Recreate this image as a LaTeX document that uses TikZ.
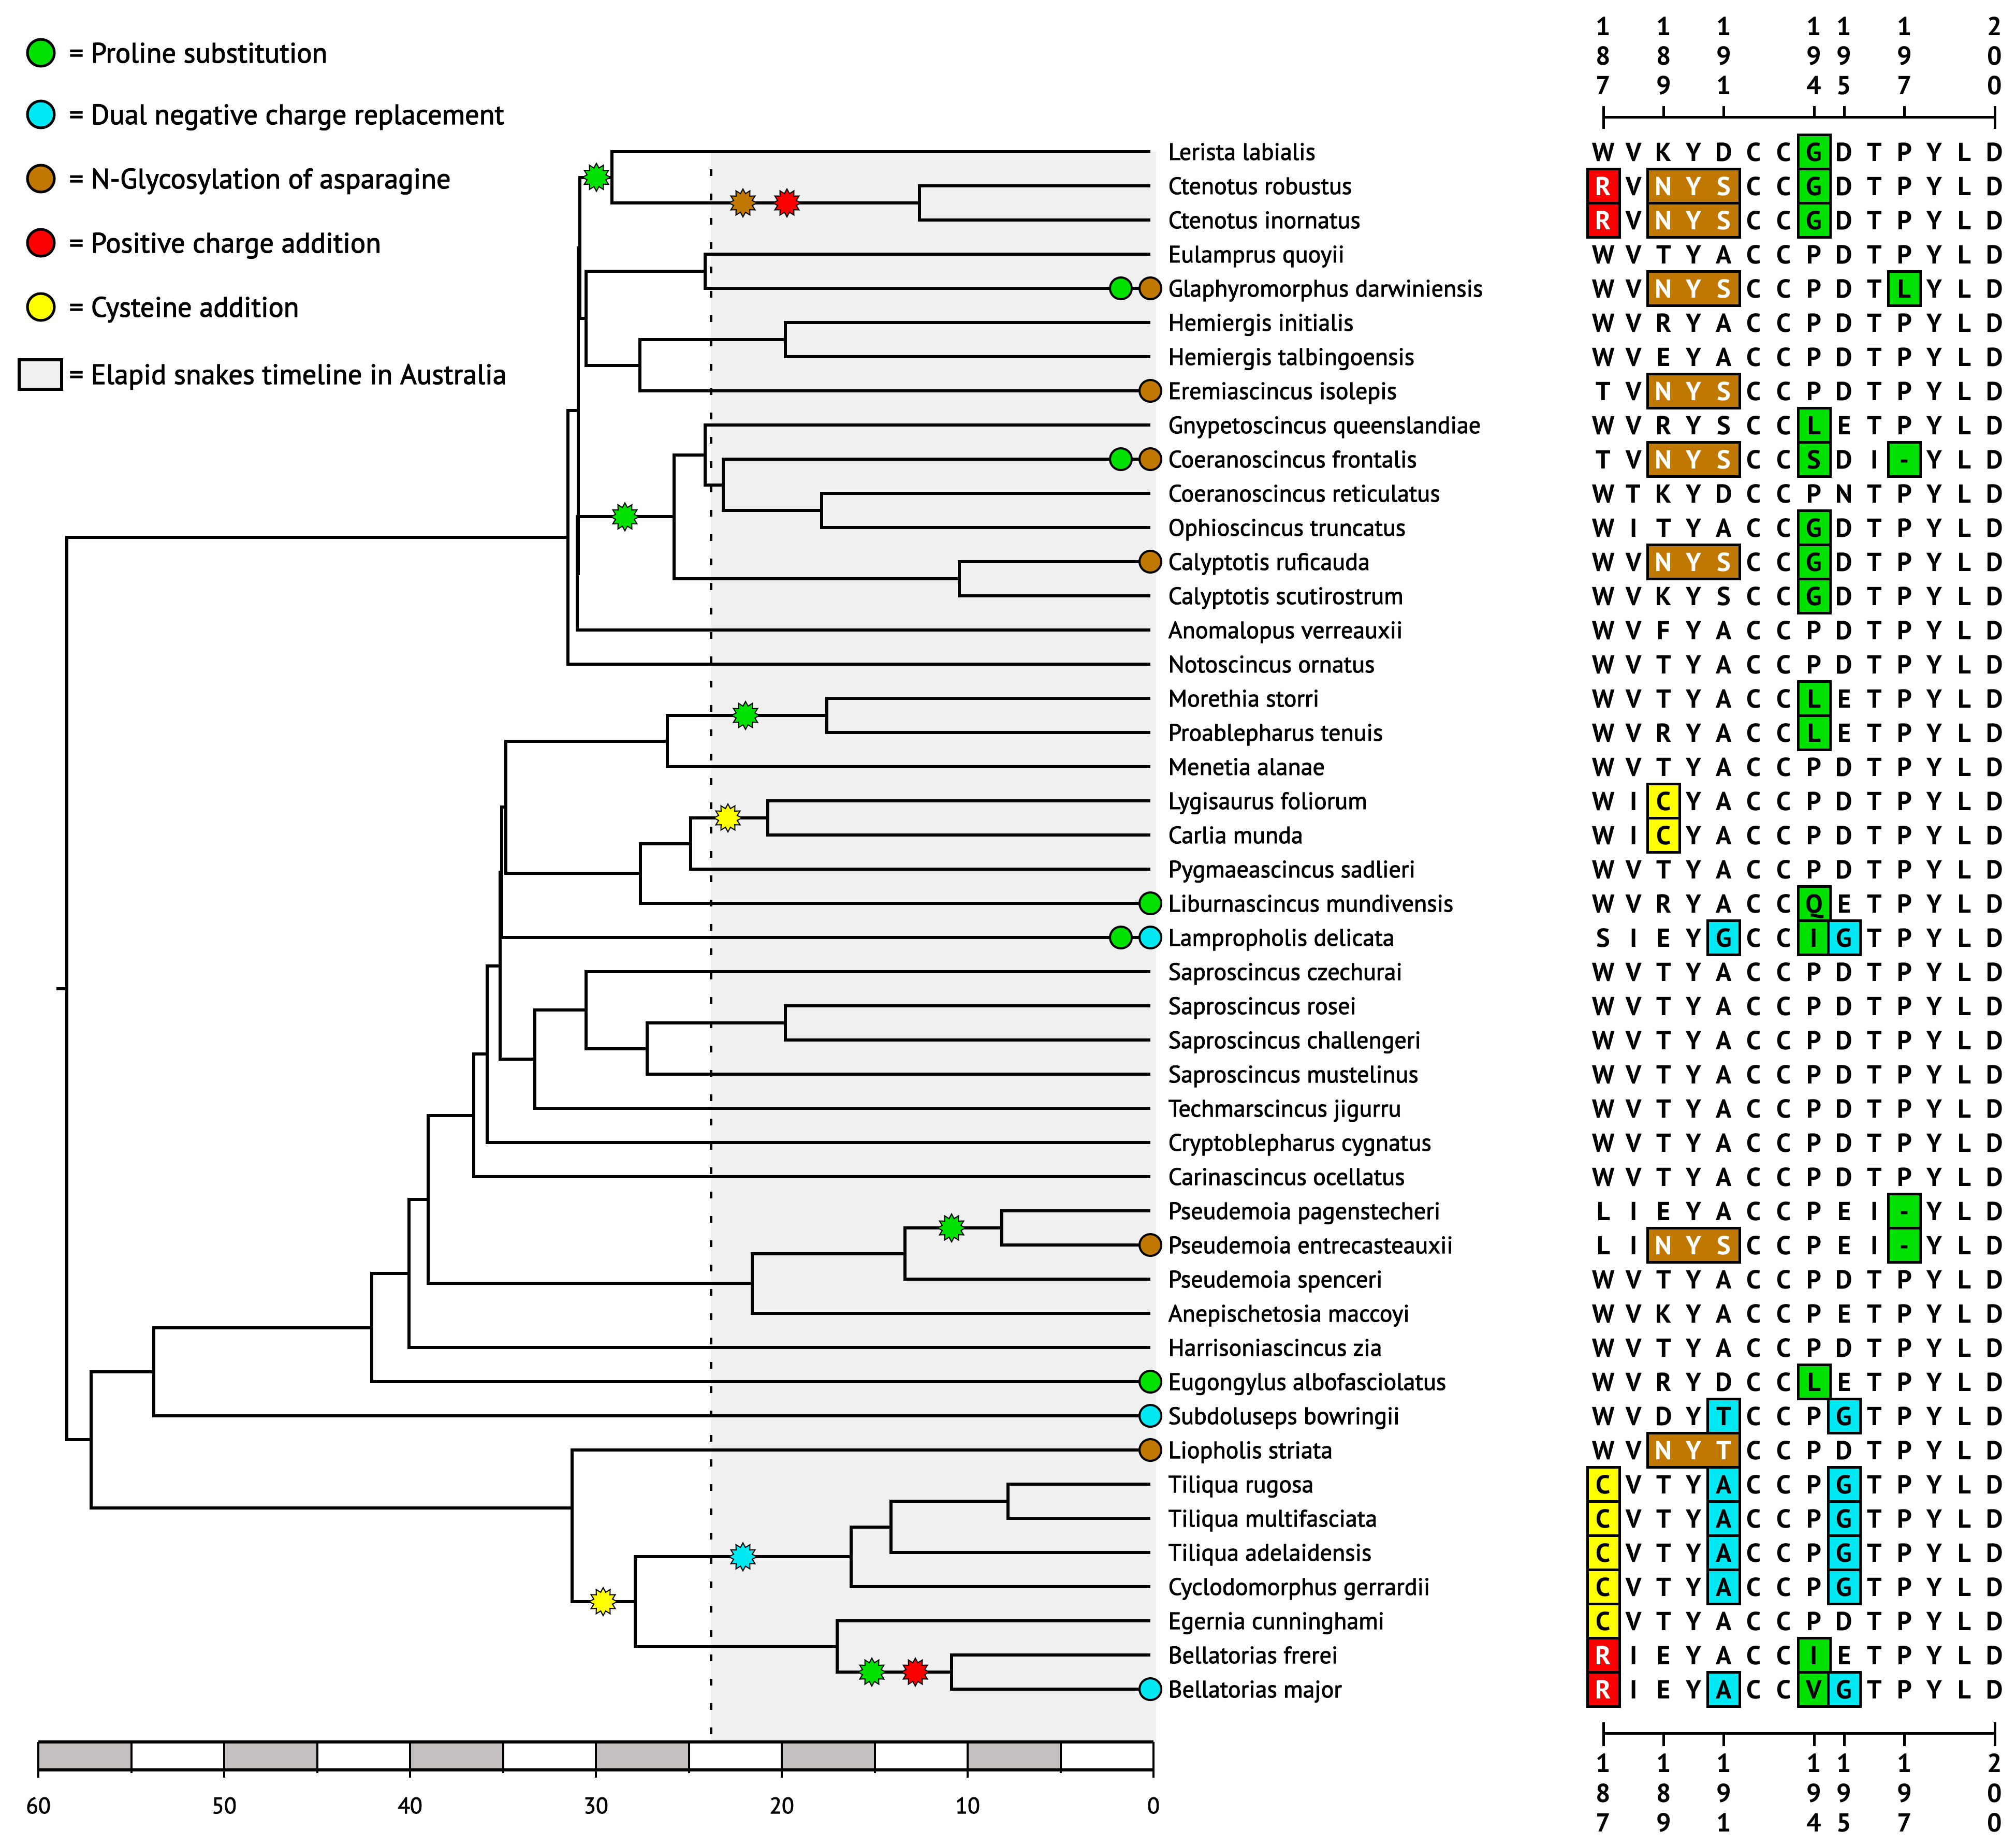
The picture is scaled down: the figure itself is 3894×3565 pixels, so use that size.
\documentclass[tikz,border=0pt]{standalone}
\usepackage{fontspec}
\setmainfont{PT Sans}
\newfontfamily\medf{PT Sans}[FakeBold=2.0]
\usetikzlibrary{shapes.geometric}
\definecolor{cgreen}{RGB}{0,225,0}
\definecolor{ccyan}{RGB}{0,232,242}
\definecolor{cbrown}{RGB}{192,120,0}
\definecolor{cred}{RGB}{250,0,0}
\definecolor{cyellow}{RGB}{255,255,0}
\definecolor{bggray}{RGB}{240,240,240}
\definecolor{bargray}{RGB}{196,192,192}
\newcommand\wcell[2]{\expandafter\def\csname wc#1-#2\endcsname{}}
\wcell{1}{0}\wcell{2}{0}\wcell{44}{0}\wcell{45}{0}
\wcell{1}{2}\wcell{1}{3}\wcell{1}{4}
\wcell{2}{2}\wcell{2}{3}\wcell{2}{4}
\wcell{4}{2}\wcell{4}{3}\wcell{4}{4}
\wcell{7}{2}\wcell{7}{3}\wcell{7}{4}
\wcell{9}{2}\wcell{9}{3}\wcell{9}{4}
\wcell{12}{2}\wcell{12}{3}\wcell{12}{4}
\wcell{32}{2}\wcell{32}{3}\wcell{32}{4}
\wcell{38}{2}\wcell{38}{3}\wcell{38}{4}
\newcommand\hlb[4]{\draw[hlbox, fill=#4] ({3097+58.15*#2-31},{293+66*#1-33}) rectangle ({3097+58.15*#3+31},{293+66*#1+33});}
\begin{document}
\begin{tikzpicture}[x=0.01cm,y=-0.01cm,
  branch/.style={line width=0.06cm, line join=miter},
  lab/.style={anchor=base west, font=\medf\fontsize{13.1}{15}\selectfont, inner sep=0pt},
  aa/.style={anchor=base, font=\bfseries\fontsize{14.3}{16}\selectfont, inner sep=0pt},
  leg/.style={anchor=base west, font=\medf\fontsize{15.5}{18}\selectfont, inner sep=0pt},
  scl/.style={anchor=base, font=\medf\fontsize{12.4}{14}\selectfont, inner sep=0pt},
  mk/.style={circle, draw=black, line width=0.04cm, minimum size=0.42cm, inner sep=0pt},
  lmk/.style={circle, draw=black, line width=0.05cm, minimum size=0.52cm, inner sep=0pt},
  st/.style={star, star points=12, star point ratio=1.45, draw=black, line width=0.02cm, minimum size=0.54cm, inner sep=0pt},
  hlbox/.style={draw=black, line width=0.05cm},
  rul/.style={line width=0.05cm}]
\useasboundingbox (0,0) rectangle (3894,3565);
\fill[white] (0,0) rectangle (3894,3565);
% elapid timeline background
\fill[bggray] (1373,293) rectangle (2233,3365);
\coordinate (dtop) at (1373,327);
\coordinate (dbot) at (1373,3365);
\draw[line width=0.05cm, dash pattern=on 0.13cm off 0.34cm] (dtop) -- (dbot);

% tips
\foreach \i in {0,...,45} { \coordinate (t\i) at (2222,{293+66*\i}); }
% internal nodes
\coordinate (Ct) at (1776,392);
\coordinate (LC) at (1182,342.5);
\coordinate (E) at (1362,524);
\coordinate (Hm) at (1517,656);
\coordinate (F) at (1236,705.5);
\coordinate (D) at (1132,614.75);
\coordinate (C1) at (1120,478.6);
\coordinate (K) at (1587,986);
\coordinate (J) at (1397,936.5);
\coordinate (H) at (1362,878.75);
\coordinate (I) at (1853,1118);
\coordinate (G) at (1302,998.4);
\coordinate (C3) at (1115,1107.7);
\coordinate (C2) at (1117,793.2);
\coordinate (A) at (1097,1038.1);
\coordinate (M1) at (1597,1382);
\coordinate (M2) at (1289,1431.5);
\coordinate (L1) at (1483,1580);
\coordinate (L2) at (1334,1629.5);
\coordinate (L3) at (1237,1687.25);
\coordinate (N1) at (977,1559.4);
\coordinate (N2) at (969,1685.2);
\coordinate (S1) at (1517,1976);
\coordinate (S2) at (1250,2025.5);
\coordinate (S3) at (1132,1951.25);
\coordinate (S4) at (1033,2046.1);
\coordinate (N3) at (966,1865.7);
\coordinate (R8) at (941,2036.3);
\coordinate (R7) at (915,2154.7);
\coordinate (P1) at (1935,2372);
\coordinate (P2) at (1748,2421.5);
\coordinate (P3) at (1453,2479.25);
\coordinate (R6) at (827,2317);
\coordinate (R5) at (790,2460);
\coordinate (R4) at (718,2564.5);
\coordinate (R3) at (297,2649.75);
\coordinate (T1) at (1947,2900);
\coordinate (T2) at (1721,2949.5);
\coordinate (T3) at (1644,3007.25);
\coordinate (B1) at (1838,3230);
\coordinate (B2) at (1617,3180.5);
\coordinate (Q) at (1227,3093.9);
\coordinate (EG) at (1105,2913);
\coordinate (R2) at (176,2781.4);
\coordinate (Root) at (129,1909.75);
\coordinate (rt) at (109,1909.75);

\foreach \p/\c in {Ct/t1,Ct/t2,LC/t0,LC/Ct,E/t3,E/t4,Hm/t5,Hm/t6,F/Hm,F/t7,D/E,D/F,C1/LC,C1/D,
  K/t10,K/t11,J/t9,J/K,H/t8,H/J,I/t12,I/t13,G/H,G/I,C3/G,C3/t14,C2/C1,C2/C3,A/C2,A/t15,
  M1/t16,M1/t17,M2/M1,M2/t18,L1/t19,L1/t20,L2/L1,L2/t21,L3/L2,L3/t22,N1/M2,N1/L3,N2/N1,N2/t23,
  S1/t25,S1/t26,S2/S1,S2/t27,S3/t24,S3/S2,S4/S3,S4/t28,N3/N2,N3/S4,R8/N3,R8/t29,R7/R8,R7/t30,
  P1/t31,P1/t32,P2/P1,P2/t33,P3/P2,P3/t34,R6/R7,R6/P3,R5/R6,R5/t35,R4/R5,R4/t36,R3/R4,R3/t37,
  T1/t39,T1/t40,T2/T1,T2/t41,T3/T2,T3/t42,B1/t44,B1/t45,B2/t43,B2/B1,Q/T3,Q/B2,EG/t38,EG/Q,
  R2/R3,R2/EG,Root/A,Root/R2}
  { \draw[branch] (\p) |- (\c); }
\draw[branch] (rt) -- (Root);

% stars on branches
\node[st, fill=cgreen] (s1) at (1152,342.5) {};
\node[st, fill=cbrown] (s2) at (1435,392) {};
\node[st, fill=cred] (s3) at (1520,392) {};
\node[st, fill=cgreen] (s4) at (1207,998.4) {};
\node[st, fill=cgreen] (s5) at (1440,1382) {};
\node[st, fill=cyellow] (s6) at (1406,1580) {};
\node[st, fill=cgreen] (s7) at (1838,2372) {};
\node[st, fill=ccyan] (s8) at (1435,3007.25) {};
\node[st, fill=cyellow] (s9) at (1165,3093.9) {};
\node[st, fill=cgreen] (s10) at (1684,3230) {};
\node[st, fill=cred] (s11) at (1768,3230) {};

% tip markers
\foreach \r/\col in {4/cbrown,7/cbrown,9/cbrown,12/cbrown,22/cgreen,23/ccyan,32/cbrown,36/cgreen,37/ccyan,38/cbrown,45/ccyan}
  { \node[mk, fill=\col] (m\r) at (t\r) {}; }
\foreach \r in {4,9,23}
  { \node[mk, fill=cgreen] (mm\r) at (2165,{293+66*\r}) {}; }

% species labels
\foreach \nm [count=\i from 0] in {Lerista labialis, Ctenotus robustus, Ctenotus inornatus, Eulamprus quoyii,
  Glaphyromorphus darwiniensis, Hemiergis initialis, Hemiergis talbingoensis, Eremiascincus isolepis,
  Gnypetoscincus queenslandiae, Coeranoscincus frontalis, Coeranoscincus reticulatus, Ophioscincus truncatus,
  Calyptotis ruficauda, Calyptotis scutirostrum, Anomalopus verreauxii, Notoscincus ornatus,
  Morethia storri, Proablepharus tenuis, Menetia alanae, Lygisaurus foliorum, Carlia munda,
  Pygmaeascincus sadlieri, Liburnascincus mundivensis, Lampropholis delicata, Saproscincus czechurai,
  Saproscincus rosei, Saproscincus challengeri, Saproscincus mustelinus, Techmarscincus jigurru,
  Cryptoblepharus cygnatus, Carinascincus ocellatus, Pseudemoia pagenstecheri, Pseudemoia entrecasteauxii,
  Pseudemoia spenceri, Anepischetosia maccoyi, Harrisoniascincus zia, Eugongylus albofasciolatus,
  Subdoluseps bowringii, Liopholis striata, Tiliqua rugosa, Tiliqua multifasciata, Tiliqua adelaidensis,
  Cyclodomorphus gerrardii, Egernia cunninghami, Bellatorias frerei, Bellatorias major}
  { \node[lab] (l\i) at (2256,{309+66*\i}) {\nm}; }

% alignment highlight boxes
\hlb{0}{7}{7}{cgreen}
\hlb{1}{0}{0}{cred}\hlb{1}{2}{4}{cbrown}\hlb{1}{7}{7}{cgreen}
\hlb{2}{0}{0}{cred}\hlb{2}{2}{4}{cbrown}\hlb{2}{7}{7}{cgreen}
\hlb{4}{2}{4}{cbrown}\hlb{4}{10}{10}{cgreen}
\hlb{7}{2}{4}{cbrown}
\hlb{8}{7}{7}{cgreen}
\hlb{9}{2}{4}{cbrown}\hlb{9}{7}{7}{cgreen}\hlb{9}{10}{10}{cgreen}
\hlb{11}{7}{7}{cgreen}
\hlb{12}{2}{4}{cbrown}\hlb{12}{7}{7}{cgreen}
\hlb{13}{7}{7}{cgreen}
\hlb{16}{7}{7}{cgreen}
\hlb{17}{7}{7}{cgreen}
\hlb{19}{2}{2}{cyellow}
\hlb{20}{2}{2}{cyellow}
\hlb{22}{7}{7}{cgreen}
\hlb{23}{4}{4}{ccyan}\hlb{23}{7}{7}{cgreen}\hlb{23}{8}{8}{ccyan}
\hlb{31}{10}{10}{cgreen}
\hlb{32}{2}{4}{cbrown}\hlb{32}{10}{10}{cgreen}
\hlb{36}{7}{7}{cgreen}
\hlb{37}{4}{4}{ccyan}\hlb{37}{8}{8}{ccyan}
\hlb{38}{2}{4}{cbrown}
\foreach \r in {39,40,41,42} { \hlb{\r}{0}{0}{cyellow}\hlb{\r}{4}{4}{ccyan}\hlb{\r}{8}{8}{ccyan} }
\hlb{43}{0}{0}{cyellow}
\hlb{44}{0}{0}{cred}\hlb{44}{7}{7}{cgreen}
\hlb{45}{0}{0}{cred}\hlb{45}{4}{4}{ccyan}\hlb{45}{7}{7}{cgreen}\hlb{45}{8}{8}{ccyan}

% alignment letters
\foreach \seq [count=\r from 0] in {
 {W,V,K,Y,D,C,C,G,D,T,P,Y,L,D},
 {R,V,N,Y,S,C,C,G,D,T,P,Y,L,D},
 {R,V,N,Y,S,C,C,G,D,T,P,Y,L,D},
 {W,V,T,Y,A,C,C,P,D,T,P,Y,L,D},
 {W,V,N,Y,S,C,C,P,D,T,L,Y,L,D},
 {W,V,R,Y,A,C,C,P,D,T,P,Y,L,D},
 {W,V,E,Y,A,C,C,P,D,T,P,Y,L,D},
 {T,V,N,Y,S,C,C,P,D,T,P,Y,L,D},
 {W,V,R,Y,S,C,C,L,E,T,P,Y,L,D},
 {T,V,N,Y,S,C,C,S,D,I,-,Y,L,D},
 {W,T,K,Y,D,C,C,P,N,T,P,Y,L,D},
 {W,I,T,Y,A,C,C,G,D,T,P,Y,L,D},
 {W,V,N,Y,S,C,C,G,D,T,P,Y,L,D},
 {W,V,K,Y,S,C,C,G,D,T,P,Y,L,D},
 {W,V,F,Y,A,C,C,P,D,T,P,Y,L,D},
 {W,V,T,Y,A,C,C,P,D,T,P,Y,L,D},
 {W,V,T,Y,A,C,C,L,E,T,P,Y,L,D},
 {W,V,R,Y,A,C,C,L,E,T,P,Y,L,D},
 {W,V,T,Y,A,C,C,P,D,T,P,Y,L,D},
 {W,I,C,Y,A,C,C,P,D,T,P,Y,L,D},
 {W,I,C,Y,A,C,C,P,D,T,P,Y,L,D},
 {W,V,T,Y,A,C,C,P,D,T,P,Y,L,D},
 {W,V,R,Y,A,C,C,Q,E,T,P,Y,L,D},
 {S,I,E,Y,G,C,C,I,G,T,P,Y,L,D},
 {W,V,T,Y,A,C,C,P,D,T,P,Y,L,D},
 {W,V,T,Y,A,C,C,P,D,T,P,Y,L,D},
 {W,V,T,Y,A,C,C,P,D,T,P,Y,L,D},
 {W,V,T,Y,A,C,C,P,D,T,P,Y,L,D},
 {W,V,T,Y,A,C,C,P,D,T,P,Y,L,D},
 {W,V,T,Y,A,C,C,P,D,T,P,Y,L,D},
 {W,V,T,Y,A,C,C,P,D,T,P,Y,L,D},
 {L,I,E,Y,A,C,C,P,E,I,-,Y,L,D},
 {L,I,N,Y,S,C,C,P,E,I,-,Y,L,D},
 {W,V,T,Y,A,C,C,P,D,T,P,Y,L,D},
 {W,V,K,Y,A,C,C,P,E,T,P,Y,L,D},
 {W,V,T,Y,A,C,C,P,D,T,P,Y,L,D},
 {W,V,R,Y,D,C,C,L,E,T,P,Y,L,D},
 {W,V,D,Y,T,C,C,P,G,T,P,Y,L,D},
 {W,V,N,Y,T,C,C,P,D,T,P,Y,L,D},
 {C,V,T,Y,A,C,C,P,G,T,P,Y,L,D},
 {C,V,T,Y,A,C,C,P,G,T,P,Y,L,D},
 {C,V,T,Y,A,C,C,P,G,T,P,Y,L,D},
 {C,V,T,Y,A,C,C,P,G,T,P,Y,L,D},
 {C,V,T,Y,A,C,C,P,D,T,P,Y,L,D},
 {R,I,E,Y,A,C,C,I,E,T,P,Y,L,D},
 {R,I,E,Y,A,C,C,V,G,T,P,Y,L,D}}
{
  \foreach \ch [count=\c from 0] in \seq {
    \ifcsname wc\r-\c\endcsname\def\lc{white}\else\def\lc{black}\fi
    \node[aa, text=\lc] (a\r-\c) at ({3097+58.15*\c},{311+66*\r}) {\ch};
  }
}

% position rulers
\coordinate (rtl) at (3097,226); \coordinate (rtr) at (3853,226);
\draw[rul] (rtl) -- (rtr);
\coordinate (rbl) at (3097,3348); \coordinate (rbr) at (3853,3348);
\draw[rul] (rbl) -- (rbr);
\foreach \c/\a/\b/\d in {0/1/8/7,2/1/8/9,4/1/9/1,7/1/9/4,8/1/9/5,10/1/9/7,13/2/0/0} {
  \node[aa] (ta\c) at ({3097+58.15*\c},68) {\a};
  \node[aa] (tb\c) at ({3097+58.15*\c},125) {\b};
  \node[aa] (tc\c) at ({3097+58.15*\c},182) {\d};
  \node[aa] (ba\c) at ({3097+58.15*\c},3423) {\a};
  \node[aa] (bb\c) at ({3097+58.15*\c},3481) {\b};
  \node[aa] (bc\c) at ({3097+58.15*\c},3538) {\d};
}
\foreach \c in {2,4,7,8,10} {
  \draw[rul] ({3097+58.15*\c},205) -- ({3097+58.15*\c},226);
  \draw[rul] ({3097+58.15*\c},3348) -- ({3097+58.15*\c},3373);
}
\foreach \c in {0,13} {
  \draw[rul] ({3097+58.15*\c},205) -- ({3097+58.15*\c},249);
  \draw[rul] ({3097+58.15*\c},3327) -- ({3097+58.15*\c},3373);
}

% time scale bar
\foreach \t in {60,50,40,30,20,10} {
  \fill[bargray] ({2228-35.9*\t},3365) rectangle ({2228-35.9*(\t-5)},3419);
}
\coordinate (bl) at (74,3365); \coordinate (br) at (2228,3365);
\draw[line width=0.06cm] (74,3365) -- (2228,3365);
\draw[line width=0.06cm] (74,3419) -- (2228,3419);
\foreach \t in {55,45,35,25,15,5} { \draw[line width=0.04cm] ({2228-35.9*\t},3365) -- ({2228-35.9*\t},3425); }
\foreach \t in {60,50,40,30,20,10,0} {
  \draw[line width=0.04cm] ({2228-35.9*\t},3365) -- ({2228-35.9*\t},3434);
  \node[scl] (sc\t) at ({2228-35.9*\t},3503) {\t};
}

% legend
\node[lmk, fill=cgreen] (lg1) at (79,102) {};
\node[lmk, fill=ccyan] (lg2) at (79,221) {};
\node[lmk, fill=cbrown] (lg3) at (79,345) {};
\node[lmk, fill=cred] (lg4) at (79,469) {};
\node[lmk, fill=cyellow] (lg5) at (79,593) {};
\draw[line width=0.06cm, fill=bggray] (37,695) rectangle (119,752);
\node[leg] (lt1) at (133,121) {= Proline substitution};
\node[leg] (lt2) at (133,240) {= Dual negative charge replacement};
\node[leg] (lt3) at (133,364) {= N-Glycosylation of asparagine};
\node[leg] (lt4) at (133,488) {= Positive charge addition};
\node[leg] (lt5) at (133,612) {= Cysteine addition};
\node[leg] (lt6) at (133,742) {= Elapid snakes timeline in Australia};
\end{tikzpicture}
\end{document}
